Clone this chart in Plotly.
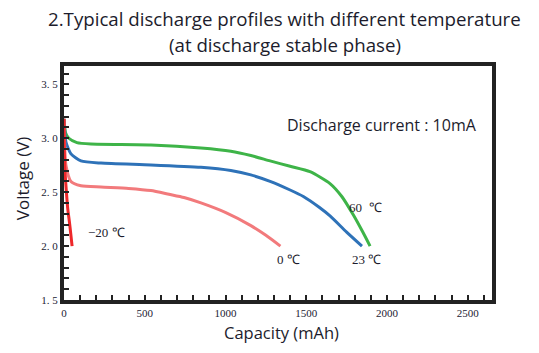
import plotly.graph_objects as go

# ---- data ----
cap_60 = [0, 10, 30, 80, 167, 538, 848, 1033, 1157, 1276, 1400, 1523, 1647, 1720, 1791, 1850, 1895]
v_60 = [3.18, 3.05, 3.00, 2.96, 2.947, 2.938, 2.91, 2.88, 2.84, 2.79, 2.74, 2.69, 2.58, 2.46, 2.29, 2.13, 2.00]

cap_23 = [0, 12, 43, 105, 229, 538, 848, 1033, 1157, 1276, 1400, 1482, 1580, 1647, 1750, 1845]
v_23 = [3.18, 2.965, 2.855, 2.79, 2.77, 2.753, 2.73, 2.70, 2.66, 2.60, 2.52, 2.46, 2.36, 2.28, 2.13, 2.00]

cap_0 = [0, 5, 12, 43, 105, 229, 400, 538, 650, 743, 848, 1002, 1157, 1250, 1340]
v_0 = [3.18, 2.90, 2.75, 2.60, 2.56, 2.548, 2.535, 2.515, 2.48, 2.45, 2.40, 2.31, 2.19, 2.10, 2.00]

cap_m20 = [0, 1, 2, 6, 12, 23, 33, 43, 50]
v_m20 = [3.18, 3.06, 2.87, 2.70, 2.56, 2.35, 2.23, 2.10, 2.00]

x_ticks = [0, 500, 1000, 1500, 2000, 2500]
y_ticks = [1.5, 2.0, 2.5, 3.0, 3.5]
y_ticktext = ["1. 5", "2. 0", "2. 5", "3. 0", "3. 5"]

series = [
    ("60 ℃", cap_60, v_60, "rgb(62,180,72)"),
    ("23 ℃", cap_23, v_23, "rgb(46,114,184)"),
    ("0 ℃", cap_0, v_0, "rgb(242,122,124)"),
    ("−20 ℃", cap_m20, v_m20, "rgb(238,40,42)"),
]

fig = go.Figure()
for name, xs, ys, col in series:
    fig.add_trace(go.Scatter(x=xs, y=ys, mode="lines", name=name,
                             line=dict(color=col, width=3, shape="spline", smoothing=0.6),
                             showlegend=False))

tick_font = dict(family="Liberation Serif", size=11, color="#222233")
sans = "Open Sans"
txt_col = "#1c1c2c"

fig.update_layout(
    width=539, height=353,
    margin=dict(l=64, r=47, t=66, b=53),
    paper_bgcolor="white", plot_bgcolor="white",
    xaxis=dict(range=[0, 2650], tickvals=x_ticks, ticks="inside", ticklen=5, tickwidth=1.5,
               tickcolor="#222", showline=True, linewidth=4, linecolor="#222", mirror=True,
               showgrid=False, zeroline=False, tickfont=tick_font,
               minor=dict(dtick=100, tick0=0, ticks="inside", ticklen=5, tickwidth=1.5,
                          tickcolor="#222", showgrid=False)),
    yaxis=dict(range=[1.5, 3.67], tickvals=y_ticks, ticktext=y_ticktext, ticks="inside",
               ticklen=5, tickwidth=1.5, tickcolor="#222", showline=True, linewidth=4,
               linecolor="#222", mirror=True, showgrid=False, zeroline=False,
               tickfont=tick_font,
               minor=dict(dtick=0.1, tick0=1.5, ticks="inside", ticklen=5, tickwidth=1.5,
                          tickcolor="#222", showgrid=False)),
)

annos = [
    dict(text="2.Typical discharge profiles with different temperature", x=0.516, y=1.201,
         xref="paper", yref="paper", font=dict(family=sans, size=18.7, color=txt_col)),
    dict(text="(at discharge stable phase)", x=0.516, y=1.094,
         xref="paper", yref="paper", font=dict(family=sans, size=18.7, color=txt_col)),
    dict(text="Voltage (V)", x=-0.098, y=0.521, xref="paper", yref="paper", textangle=-90,
         font=dict(family=sans, size=17, color=txt_col)),
    dict(text="Capacity (mAh)", x=0.509, y=-0.141, xref="paper", yref="paper",
         font=dict(family=sans, size=16.5, color=txt_col)),
    dict(text="Discharge current : 10mA", x=1969, y=3.12, xref="x", yref="y",
         font=dict(family=sans, size=16, color=txt_col)),
    dict(text="60  ℃", x=1864, y=2.361, xref="x", yref="y",
         font=dict(family="Liberation Serif", size=13, color=txt_col)),
    dict(text="23 ℃", x=1870, y=1.88, xref="x", yref="y",
         font=dict(family="Liberation Serif", size=13, color=txt_col)),
    dict(text="0 ℃", x=1393, y=1.88, xref="x", yref="y",
         font=dict(family="Liberation Serif", size=13, color=txt_col)),
    dict(text="−20 ℃", x=263, y=2.13, xref="x", yref="y",
         font=dict(family="Liberation Serif", size=13, color=txt_col)),
]
for a in annos:
    a.update(showarrow=False, xanchor="center", yanchor="middle")
    fig.add_annotation(**a)

fig.write_html("out.html")
